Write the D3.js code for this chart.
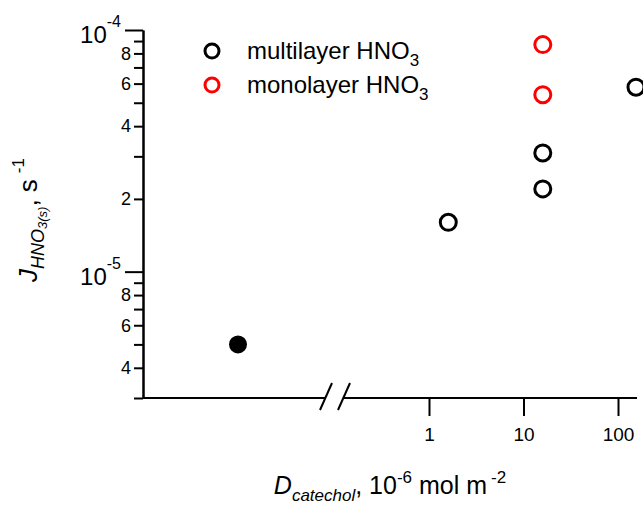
<!DOCTYPE html>
<html>
<head>
<meta charset="utf-8">
<script src="https://cdn.jsdelivr.net/npm/d3@7"></script>
<style>
  body { margin: 0; background: #fff; }
  svg { font-family: "Liberation Sans", Arial, sans-serif; }
</style>
</head>
<body>
<svg id="chart" width="643" height="515"></svg>
<script>
// data
const controlCats = ["0"];
const controlJ = [5.0e-6];

const multiD = [1.6, 16, 16, 155];
const multiJ = [1.6e-5, 2.2e-5, 3.1e-5, 5.8e-5];

const monoD = [16, 16];
const monoJ = [5.4e-5, 8.7e-5];

const xTicks = [1, 10, 100];
const yMajor = [1e-5, 1e-4];
const yMinor = [3e-6, 4e-6, 5e-6, 6e-6, 7e-6, 8e-6, 9e-6,
                2e-5, 3e-5, 4e-5, 5e-5, 6e-5, 7e-5, 8e-5, 9e-5];
const yMinorLabels = { "4e-6": "4", "6e-6": "6", "8e-6": "8",
                       "2e-5": "2", "4e-5": "4", "6e-5": "6", "8e-5": "8" };

const legendItems = [
  { name: "multilayer HNO", sub: "3", color: "#000" },
  { name: "monolayer HNO", sub: "3", color: "#ff0000" }
];

const svg = d3.select("#chart");

const axisX = 143, axisY = 398;

const y = d3.scaleLog().domain([3e-6, 1e-4]).range([axisY, 30]);
const xLog = d3.scaleLog().domain([1, 100]).range([429, 618]);
const xCtl = d3.scaleBand().domain(controlCats).range([axisX, 333]);

// --- y axis ---
const gyMinor = svg.append("g")
  .attr("transform", `translate(${axisX},0)`)
  .call(d3.axisLeft(y).tickValues(yMinor).tickSize(9).tickSizeOuter(0).tickPadding(3)
    .tickFormat(d => yMinorLabels[d.toExponential().replace("+", "")] || ""));
gyMinor.selectAll("text").style("font-size", "18px").attr("fill", "#000");

const gyMajor = svg.append("g")
  .attr("transform", `translate(${axisX},0)`)
  .call(d3.axisLeft(y).tickValues(yMajor).tickSize(18).tickSizeOuter(0).tickFormat(""));

svg.selectAll(".tick line, .domain").attr("stroke", "#000").attr("stroke-width", 2);

// major labels as 10 with superscript
const majLab = svg.append("g").selectAll("text")
  .data(yMajor)
  .enter().append("text")
    .attr("x", 121)
    .attr("y", d => y(d) + 13)
    .attr("text-anchor", "end")
    .style("font-size", "24px");
majLab.append("tspan").text("10");
majLab.append("tspan")
  .attr("dy", -16)
  .style("font-size", "16px")
  .text(d => Math.round(Math.log10(d)));

// --- x axis ---
const gx = svg.append("g")
  .attr("transform", `translate(0,${axisY})`)
  .call(d3.axisBottom(xLog).tickValues(xTicks).tickSize(18).tickPadding(12)
    .tickFormat(d3.format("d")));
gx.select(".domain").remove();
gx.selectAll(".tick line").attr("stroke", "#000").attr("stroke-width", 2);
gx.selectAll("text").style("font-size", "19px").attr("fill", "#000");

// axis line split by the break
const xLine = svg.append("g").attr("stroke", "#000").attr("stroke-width", 2);
xLine.append("line").attr("x1", axisX).attr("x2", 326).attr("y1", axisY).attr("y2", axisY);
xLine.append("line").attr("x1", 343).attr("x2", 637).attr("y1", axisY).attr("y2", axisY);
[320, 338].forEach(bx => {
  xLine.append("line")
    .attr("x1", bx).attr("y1", axisY + 12)
    .attr("x2", bx + 12).attr("y2", axisY - 15);
});

// --- points ---
svg.selectAll("circle.ctl")
  .data(controlJ)
  .enter().append("circle")
    .attr("class", "ctl")
    .attr("cx", (d, i) => xCtl(controlCats[i]) + xCtl.bandwidth() / 2)
    .attr("cy", d => y(d))
    .attr("r", 9)
    .attr("fill", "#000");

svg.selectAll("circle.multi")
  .data(multiJ)
  .enter().append("circle")
    .attr("class", "multi")
    .attr("cx", (d, i) => xLog(multiD[i]))
    .attr("cy", d => y(d))
    .attr("r", 8)
    .attr("fill", "none")
    .attr("stroke", "#000")
    .attr("stroke-width", 3);

svg.selectAll("circle.mono")
  .data(monoJ)
  .enter().append("circle")
    .attr("class", "mono")
    .attr("cx", (d, i) => xLog(monoD[i]))
    .attr("cy", d => y(d))
    .attr("r", 8)
    .attr("fill", "none")
    .attr("stroke", "#ff0000")
    .attr("stroke-width", 3);

// --- legend ---
const leg = svg.append("g").selectAll("g")
  .data(legendItems)
  .enter().append("g")
    .attr("transform", (d, i) => `translate(212,${51 + i * 34})`);
leg.append("circle")
  .attr("r", 7)
  .attr("fill", "none")
  .attr("stroke", d => d.color)
  .attr("stroke-width", 3);
const legText = leg.append("text")
  .attr("x", 35)
  .attr("y", 8)
  .style("font-size", "24px");
legText.append("tspan").text(d => d.name);
legText.append("tspan").attr("dy", 7).style("font-size", "17px").text(d => d.sub);

// --- axis titles ---
const xt = svg.append("text")
  .attr("x", 390)
  .attr("y", 494)
  .attr("text-anchor", "middle")
  .style("font-size", "25px");
xt.append("tspan").style("font-style", "italic").text("D");
xt.append("tspan").attr("dy", 7).style("font-size", "17px").style("font-style", "italic").text("catechol");
xt.append("tspan").attr("dy", -7).text(", 10");
xt.append("tspan").attr("dy", -11).style("font-size", "17px").text("-6");
xt.append("tspan").attr("dy", 11).text(" mol m");
xt.append("tspan").attr("dy", -11).attr("dx", 4).style("font-size", "17px").text("-2");

const yt = svg.append("text")
  .attr("transform", "translate(37,220) rotate(-90)")
  .attr("text-anchor", "middle")
  .style("font-size", "26px");
yt.append("tspan").style("font-style", "italic").text("J");
yt.append("tspan").attr("dy", 7).style("font-size", "18px").style("font-style", "italic").text("HNO");
yt.append("tspan").attr("dy", 3).style("font-size", "13px").style("font-style", "italic").text("3(s)");
yt.append("tspan").attr("dy", -10).text(", s");
yt.append("tspan").attr("dy", -13).attr("dx", 6).style("font-size", "17px").text("-1");
</script>
</body>
</html>
